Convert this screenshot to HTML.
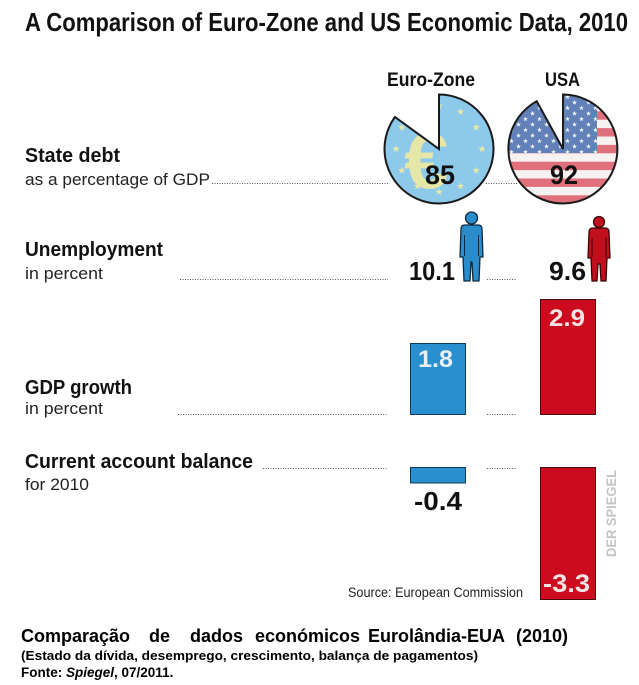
<!DOCTYPE html>
<html>
<head>
<meta charset="utf-8">
<style>
  html, body { margin: 0; padding: 0; background: #ffffff; }
  svg { display: block; }
  text { font-family: "Liberation Sans", "DejaVu Sans", sans-serif; }
</style>
</head>
<body>
<svg width="639" height="685" viewBox="0 0 639 685" xmlns="http://www.w3.org/2000/svg">
  <defs>
    <path id="star" d="M0,-1 L0.225,-0.309 L0.951,-0.309 L0.363,0.118 L0.588,0.809 L0,0.382 L-0.588,0.809 L-0.363,0.118 L-0.951,-0.309 L-0.225,-0.309 Z"/>
    <clipPath id="euroClip">
      <path d="M439,149 L439,94.5 A54.5,54.5 0 1 1 394.9,117 Z"/>
    </clipPath>
    <clipPath id="usaClip">
      <path d="M563,149 L563,94.5 A54.5,54.5 0 1 1 536.7,101.2 Z"/>
    </clipPath>
    <pattern id="usStars" x="508" y="94" width="14" height="11" patternUnits="userSpaceOnUse">
      <use href="#star" transform="translate(3.5,3) scale(2.6)" fill="#ffffff"/>
      <use href="#star" transform="translate(10.5,8.5) scale(2.6)" fill="#ffffff"/>
    </pattern>
  </defs>

  <rect width="639" height="685" fill="#ffffff"/>

  <!-- Title -->
  <text x="25" y="31" font-size="26" font-weight="bold" fill="#111" textLength="603" lengthAdjust="spacingAndGlyphs">A Comparison of Euro-Zone and US Economic Data, 2010</text>

  <!-- Column headings -->
  <text x="387" y="86" font-size="19" font-weight="bold" fill="#111" textLength="88" lengthAdjust="spacingAndGlyphs">Euro-Zone</text>
  <text x="545" y="86" font-size="19" font-weight="bold" fill="#111" textLength="35" lengthAdjust="spacingAndGlyphs">USA</text>

  <!-- Row labels -->
  <text x="25" y="162" font-size="20" font-weight="bold" fill="#111" textLength="95" lengthAdjust="spacingAndGlyphs">State debt</text>
  <text x="25" y="185" font-size="17" fill="#222" textLength="185" lengthAdjust="spacingAndGlyphs">as a percentage of GDP</text>

  <text x="25" y="256" font-size="20" font-weight="bold" fill="#111" textLength="138" lengthAdjust="spacingAndGlyphs">Unemployment</text>
  <text x="25" y="279" font-size="17" fill="#222" textLength="78" lengthAdjust="spacingAndGlyphs">in percent</text>

  <text x="25" y="394" font-size="20" font-weight="bold" fill="#111" textLength="107" lengthAdjust="spacingAndGlyphs">GDP growth</text>
  <text x="25" y="414" font-size="17" fill="#222" textLength="78" lengthAdjust="spacingAndGlyphs">in percent</text>

  <text x="25" y="468" font-size="20" font-weight="bold" fill="#111" textLength="228" lengthAdjust="spacingAndGlyphs">Current account balance</text>
  <text x="25" y="490" font-size="17" fill="#222" textLength="64" lengthAdjust="spacingAndGlyphs">for 2010</text>

  <!-- Dotted leader lines -->
  <g stroke="#555" stroke-width="1" stroke-dasharray="1,1.5" fill="none">
    <line x1="212" y1="183.5" x2="388" y2="183.5"/>
    <line x1="486" y1="183.5" x2="517" y2="183.5"/>
    <line x1="180" y1="279.5" x2="388" y2="279.5"/>
    <line x1="487" y1="279.5" x2="517" y2="279.5"/>
    <line x1="178" y1="414.5" x2="388" y2="414.5"/>
    <line x1="487" y1="414.5" x2="517" y2="414.5"/>
    <line x1="263" y1="468.5" x2="388" y2="468.5"/>
    <line x1="487" y1="468.5" x2="517" y2="468.5"/>
  </g>

  <!-- Euro pie -->
  <g clip-path="url(#euroClip)">
    <rect x="380" y="90" width="120" height="120" fill="#8dc9ea"/>
    <text x="404" y="188" font-size="80" font-weight="bold" fill="#e6e6a8">€</text>
    <g fill="#e6eaa8">
      <use href="#star" transform="translate(439,106) scale(4)"/>
      <use href="#star" transform="translate(460.5,111.8) scale(4)"/>
      <use href="#star" transform="translate(476.2,127.5) scale(4)"/>
      <use href="#star" transform="translate(482,149) scale(4)"/>
      <use href="#star" transform="translate(476.2,170.5) scale(4)"/>
      <use href="#star" transform="translate(460.5,186.2) scale(4)"/>
      <use href="#star" transform="translate(439,192) scale(4)"/>
      <use href="#star" transform="translate(417.5,186.2) scale(4)"/>
      <use href="#star" transform="translate(401.8,170.5) scale(4)"/>
      <use href="#star" transform="translate(396,149) scale(4)"/>
      <use href="#star" transform="translate(401.8,127.5) scale(4)"/>
    </g>
  </g>
  <path d="M439,149 L439,94.5 A54.5,54.5 0 1 1 394.9,117 Z" fill="none" stroke="#1a1a1a" stroke-width="2" stroke-linejoin="miter"/>
  <text x="425" y="184" font-size="27" font-weight="bold" fill="#111" textLength="30" lengthAdjust="spacingAndGlyphs">85</text>

  <!-- USA pie -->
  <g clip-path="url(#usaClip)">
    <rect x="505" y="90" width="120" height="120" fill="#f6f2f2"/>
    <g fill="#e0707b">
      <rect x="505" y="94.5" width="120" height="8.4"/>
      <rect x="505" y="111.3" width="120" height="8.4"/>
      <rect x="505" y="128.1" width="120" height="8.4"/>
      <rect x="505" y="144.9" width="120" height="8.4"/>
      <rect x="505" y="161.7" width="120" height="8.4"/>
      <rect x="505" y="178.5" width="120" height="8.4"/>
      <rect x="505" y="195.3" width="120" height="8.4"/>
    </g>
    <rect x="505" y="90" width="92" height="63" fill="#6281b9"/>
    <rect x="505" y="90" width="92" height="63" fill="url(#usStars)"/>
  </g>
  <path d="M563,149 L563,94.5 A54.5,54.5 0 1 1 536.7,101.2 Z" fill="none" stroke="#1a1a1a" stroke-width="2" stroke-linejoin="miter"/>
  <text x="550" y="184" font-size="27" font-weight="bold" fill="#111" textLength="28" lengthAdjust="spacingAndGlyphs">92</text>

  <!-- Unemployment -->
  <text x="409" y="280" font-size="26" font-weight="bold" fill="#111" textLength="46" lengthAdjust="spacingAndGlyphs">10.1</text>
  <g fill="#2b8ccb" stroke="#10283c" stroke-width="1.3" stroke-linejoin="round">
    <circle cx="471.5" cy="218" r="6"/>
    <path d="M461,229 Q461,225 465,225 L478,225 Q482,225 482,229 L483,257 L480,257 L479,281 L473,281 L472,262 L471,262 L470,281 L464,281 L463,257 L460,257 Z"/>
  </g>
  <g stroke="#10283c" stroke-width="1">
    <line x1="464.5" y1="235" x2="464.5" y2="256"/>
    <line x1="478.5" y1="235" x2="478.5" y2="256"/>
  </g>

  <text x="549" y="280" font-size="26" font-weight="bold" fill="#111" textLength="37" lengthAdjust="spacingAndGlyphs">9.6</text>
  <g fill="#c0101e" stroke="#3a0508" stroke-width="1.3" stroke-linejoin="round">
    <circle cx="599" cy="222" r="5.5"/>
    <path d="M589,232 Q589,228 593,228 L605,228 Q609,228 609,232 L610,258 L607,258 L606,281 L601,281 L600,264 L598,264 L597,281 L592,281 L591,258 L588,258 Z"/>
  </g>
  <g stroke="#3a0508" stroke-width="1">
    <line x1="592" y1="238" x2="592" y2="257"/>
    <line x1="606" y1="238" x2="606" y2="257"/>
  </g>

  <!-- GDP growth bars -->
  <rect x="410.5" y="343.5" width="55" height="71" fill="#2a8fce" stroke="#123a5c" stroke-width="1"/>
  <text x="418" y="367" font-size="24" font-weight="bold" fill="#e8f0f2" textLength="35" lengthAdjust="spacingAndGlyphs">1.8</text>
  <rect x="540.5" y="299.5" width="55" height="115" fill="#cc0b1f" stroke="#4a0a10" stroke-width="1"/>
  <text x="549" y="326" font-size="24" font-weight="bold" fill="#f6e4e4" textLength="36" lengthAdjust="spacingAndGlyphs">2.9</text>

  <!-- Current account bars -->
  <rect x="410.5" y="467.5" width="55" height="15.5" fill="#2a8fce" stroke="#123a5c" stroke-width="1"/>
  <text x="414" y="510" font-size="26" font-weight="bold" fill="#111" textLength="48" lengthAdjust="spacingAndGlyphs">-0.4</text>
  <rect x="540.5" y="467.5" width="55" height="132" fill="#cc0b1f" stroke="#4a0a10" stroke-width="1"/>
  <text x="543" y="592" font-size="25" font-weight="bold" fill="#f6e4e4" textLength="47" lengthAdjust="spacingAndGlyphs">-3.3</text>

  <!-- Credit -->
  <text transform="translate(616,557) rotate(-90)" x="0" y="0" font-size="14" font-weight="bold" fill="#c4c4c4" textLength="87" lengthAdjust="spacingAndGlyphs">DER SPIEGEL</text>

  <!-- Source -->
  <text x="348" y="597" font-size="14" fill="#222" textLength="175" lengthAdjust="spacingAndGlyphs">Source: European Commission</text>

  <!-- Footer -->
  <g font-size="18" font-weight="bold" fill="#000">
    <text x="21" y="642">Comparação</text>
    <text x="149" y="642">de</text>
    <text x="190" y="642">dados</text>
    <text x="255" y="642">económicos</text>
    <text x="368" y="642">Eurolândia-EUA</text>
    <text x="516" y="642">(2010)</text>
  </g>
  <text x="21" y="660" font-size="12.5" font-weight="bold" fill="#000" textLength="457" lengthAdjust="spacingAndGlyphs">(Estado da dívida, desemprego, crescimento, balança de pagamentos)</text>
  <text x="21" y="677" font-size="13.5" font-weight="bold" fill="#000">Fonte: <tspan font-style="italic">Spiegel</tspan>, 07/2011.</text>
</svg>
</body>
</html>
